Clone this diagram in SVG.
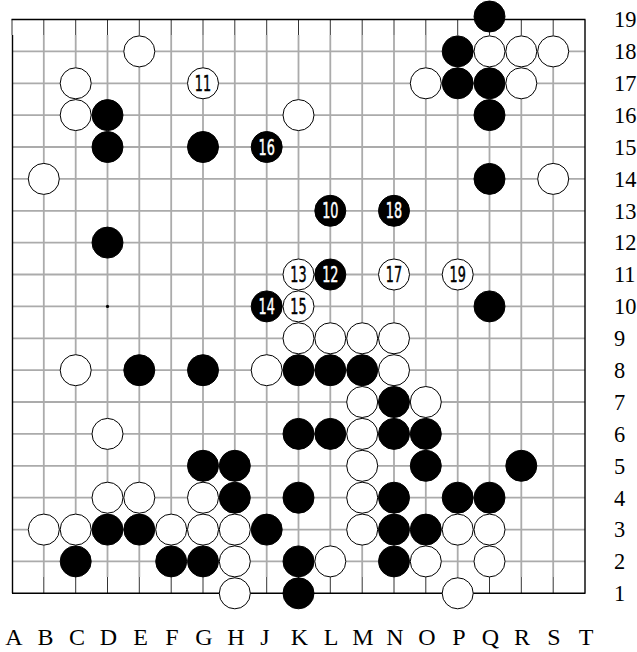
<svg xmlns="http://www.w3.org/2000/svg" width="637" height="652" viewBox="0 0 637 652">
<style>
.g{stroke:#ababab;stroke-width:1.8;fill:none}
.s{stroke:#333;stroke-width:1;fill:none}
.bd{stroke:#000;stroke-width:1.4;fill:none}
.b{fill:#000;stroke:#000;stroke-width:1}
.w{fill:#fff;stroke:#000;stroke-width:1}
.nb{fill:#fff;stroke:#fff;stroke-width:0.35}
.nw{fill:#000;stroke:#000;stroke-width:0.35}
</style>
<rect width="637" height="652" fill="#fff"/>
<g id="grid">
<path class="g" d="M43.8,35V577M75.7,35V577M107.5,35V577M139.3,35V577M171.2,35V577M203,35V577M234.8,35V577M266.7,35V577M298.5,35V577M330.3,35V577M362.2,35V577M394,35V577M425.8,35V577M457.7,35V577M489.5,35V577M521.3,35V577M553.2,35V577"/>
<path class="g" d="M12,51.4H585M12,83.3H585M12,115.1H585M12,147H585M12,178.9H585M12,210.8H585M12,242.6H585M12,274.5H585M12,306.4H585M12,338.3H585M12,370.2H585M12,402H585M12,433.9H585M12,465.8H585M12,497.7H585M12,529.6H585M12,561.4H585"/>
<path class="s" d="M12,19.5V35M43.8,19.5V35M75.7,19.5V35M107.5,19.5V35M139.3,19.5V35M171.2,19.5V35M203,19.5V35M234.8,19.5V35M266.7,19.5V35M298.5,19.5V35M330.3,19.5V35M362.2,19.5V35M394,19.5V35M425.8,19.5V35M457.7,19.5V35M489.5,19.5V35M521.3,19.5V35M553.2,19.5V35"/>
<path class="s" d="M43.8,577V593.3M75.7,577V593.3M107.5,577V593.3M139.3,577V593.3M171.2,577V593.3M203,577V593.3M234.8,577V593.3M266.7,577V593.3M298.5,577V593.3M330.3,577V593.3M362.2,577V593.3M394,577V593.3M425.8,577V593.3M457.7,577V593.3M489.5,577V593.3M521.3,577V593.3M553.2,577V593.3"/>
<path class="bd" d="M11.5,19.5H585.5M12.5,35V593.3M585,19.5V593.3M12,593.3H585.5"/>
<circle cx="107.5" cy="306.4" r="1.6" fill="#000"/>
</g>
<g id="connectors"></g>
<g id="stones" font-family="DejaVu Sans, sans-serif" font-size="16" text-anchor="middle">
<g id="Q19"><circle class="b" cx="489.5" cy="16.5" r="15.5"/></g>
<g id="P18"><circle class="b" cx="457.7" cy="51.4" r="15.5"/></g>
<g id="P17"><circle class="b" cx="457.7" cy="83.3" r="15.5"/></g>
<g id="Q17"><circle class="b" cx="489.5" cy="83.3" r="15.5"/></g>
<g id="D16"><circle class="b" cx="107.5" cy="115.1" r="15.5"/></g>
<g id="Q16"><circle class="b" cx="489.5" cy="115.1" r="15.5"/></g>
<g id="D15"><circle class="b" cx="107.5" cy="147" r="15.5"/></g>
<g id="G15"><circle class="b" cx="203" cy="147" r="15.5"/></g>
<g id="J15"><circle class="b" cx="266.7" cy="147" r="15.5"/><text class="nb" transform="translate(266.7,154.6) scale(0.8,1.3)">16</text></g>
<g id="Q14"><circle class="b" cx="489.5" cy="178.9" r="15.5"/></g>
<g id="L13"><circle class="b" cx="330.3" cy="210.8" r="15.5"/><text class="nb" transform="translate(330.3,218.4) scale(0.8,1.3)">10</text></g>
<g id="N13"><circle class="b" cx="394" cy="210.8" r="15.5"/><text class="nb" transform="translate(394,218.4) scale(0.8,1.3)">18</text></g>
<g id="D12"><circle class="b" cx="107.5" cy="242.6" r="15.5"/></g>
<g id="L11"><circle class="b" cx="330.3" cy="274.5" r="15.5"/><text class="nb" transform="translate(330.3,282.1) scale(0.8,1.3)">12</text></g>
<g id="J10"><circle class="b" cx="266.7" cy="306.4" r="15.5"/><text class="nb" transform="translate(266.7,314) scale(0.8,1.3)">14</text></g>
<g id="Q10"><circle class="b" cx="489.5" cy="306.4" r="15.5"/></g>
<g id="E8"><circle class="b" cx="139.3" cy="370.2" r="15.5"/></g>
<g id="G8"><circle class="b" cx="203" cy="370.2" r="15.5"/></g>
<g id="K8"><circle class="b" cx="298.5" cy="370.2" r="15.5"/></g>
<g id="L8"><circle class="b" cx="330.3" cy="370.2" r="15.5"/></g>
<g id="M8"><circle class="b" cx="362.2" cy="370.2" r="15.5"/></g>
<g id="N7"><circle class="b" cx="394" cy="402" r="15.5"/></g>
<g id="K6"><circle class="b" cx="298.5" cy="433.9" r="15.5"/></g>
<g id="L6"><circle class="b" cx="330.3" cy="433.9" r="15.5"/></g>
<g id="N6"><circle class="b" cx="394" cy="433.9" r="15.5"/></g>
<g id="O6"><circle class="b" cx="425.8" cy="433.9" r="15.5"/></g>
<g id="G5"><circle class="b" cx="203" cy="465.8" r="15.5"/></g>
<g id="H5"><circle class="b" cx="234.8" cy="465.8" r="15.5"/></g>
<g id="O5"><circle class="b" cx="425.8" cy="465.8" r="15.5"/></g>
<g id="R5"><circle class="b" cx="521.3" cy="465.8" r="15.5"/></g>
<g id="H4"><circle class="b" cx="234.8" cy="497.7" r="15.5"/></g>
<g id="K4"><circle class="b" cx="298.5" cy="497.7" r="15.5"/></g>
<g id="N4"><circle class="b" cx="394" cy="497.7" r="15.5"/></g>
<g id="P4"><circle class="b" cx="457.7" cy="497.7" r="15.5"/></g>
<g id="Q4"><circle class="b" cx="489.5" cy="497.7" r="15.5"/></g>
<g id="D3"><circle class="b" cx="107.5" cy="529.6" r="15.5"/></g>
<g id="E3"><circle class="b" cx="139.3" cy="529.6" r="15.5"/></g>
<g id="J3"><circle class="b" cx="266.7" cy="529.6" r="15.5"/></g>
<g id="N3"><circle class="b" cx="394" cy="529.6" r="15.5"/></g>
<g id="O3"><circle class="b" cx="425.8" cy="529.6" r="15.5"/></g>
<g id="C2"><circle class="b" cx="75.7" cy="561.4" r="15.5"/></g>
<g id="F2"><circle class="b" cx="171.2" cy="561.4" r="15.5"/></g>
<g id="G2"><circle class="b" cx="203" cy="561.4" r="15.5"/></g>
<g id="K2"><circle class="b" cx="298.5" cy="561.4" r="15.5"/></g>
<g id="N2"><circle class="b" cx="394" cy="561.4" r="15.5"/></g>
<g id="K1"><circle class="b" cx="298.5" cy="593.3" r="15.5"/></g>
<g id="E18"><circle class="w" cx="139.3" cy="51.4" r="15.5"/></g>
<g id="Q18"><circle class="w" cx="489.5" cy="51.4" r="15.5"/></g>
<g id="R18"><circle class="w" cx="521.3" cy="51.4" r="15.5"/></g>
<g id="S18"><circle class="w" cx="553.2" cy="51.4" r="15.5"/></g>
<g id="C17"><circle class="w" cx="75.7" cy="83.3" r="15.5"/></g>
<g id="G17"><circle class="w" cx="203" cy="83.3" r="15.5"/><text class="nw" transform="translate(203,90.9) scale(0.8,1.3)">11</text></g>
<g id="O17"><circle class="w" cx="425.8" cy="83.3" r="15.5"/></g>
<g id="R17"><circle class="w" cx="521.3" cy="83.3" r="15.5"/></g>
<g id="C16"><circle class="w" cx="75.7" cy="115.1" r="15.5"/></g>
<g id="K16"><circle class="w" cx="298.5" cy="115.1" r="15.5"/></g>
<g id="B14"><circle class="w" cx="43.8" cy="178.9" r="15.5"/></g>
<g id="S14"><circle class="w" cx="553.2" cy="178.9" r="15.5"/></g>
<g id="K11"><circle class="w" cx="298.5" cy="274.5" r="15.5"/><text class="nw" transform="translate(298.5,282.1) scale(0.8,1.3)">13</text></g>
<g id="N11"><circle class="w" cx="394" cy="274.5" r="15.5"/><text class="nw" transform="translate(394,282.1) scale(0.8,1.3)">17</text></g>
<g id="P11"><circle class="w" cx="457.7" cy="274.5" r="15.5"/><text class="nw" transform="translate(457.7,282.1) scale(0.8,1.3)">19</text></g>
<g id="K10"><circle class="w" cx="298.5" cy="306.4" r="15.5"/><text class="nw" transform="translate(298.5,314) scale(0.8,1.3)">15</text></g>
<g id="K9"><circle class="w" cx="298.5" cy="338.3" r="15.5"/></g>
<g id="L9"><circle class="w" cx="330.3" cy="338.3" r="15.5"/></g>
<g id="M9"><circle class="w" cx="362.2" cy="338.3" r="15.5"/></g>
<g id="N9"><circle class="w" cx="394" cy="338.3" r="15.5"/></g>
<g id="C8"><circle class="w" cx="75.7" cy="370.2" r="15.5"/></g>
<g id="J8"><circle class="w" cx="266.7" cy="370.2" r="15.5"/></g>
<g id="N8"><circle class="w" cx="394" cy="370.2" r="15.5"/></g>
<g id="M7"><circle class="w" cx="362.2" cy="402" r="15.5"/></g>
<g id="O7"><circle class="w" cx="425.8" cy="402" r="15.5"/></g>
<g id="D6"><circle class="w" cx="107.5" cy="433.9" r="15.5"/></g>
<g id="M6"><circle class="w" cx="362.2" cy="433.9" r="15.5"/></g>
<g id="M5"><circle class="w" cx="362.2" cy="465.8" r="15.5"/></g>
<g id="D4"><circle class="w" cx="107.5" cy="497.7" r="15.5"/></g>
<g id="E4"><circle class="w" cx="139.3" cy="497.7" r="15.5"/></g>
<g id="G4"><circle class="w" cx="203" cy="497.7" r="15.5"/></g>
<g id="M4"><circle class="w" cx="362.2" cy="497.7" r="15.5"/></g>
<g id="B3"><circle class="w" cx="43.8" cy="529.6" r="15.5"/></g>
<g id="C3"><circle class="w" cx="75.7" cy="529.6" r="15.5"/></g>
<g id="F3"><circle class="w" cx="171.2" cy="529.6" r="15.5"/></g>
<g id="G3"><circle class="w" cx="203" cy="529.6" r="15.5"/></g>
<g id="H3"><circle class="w" cx="234.8" cy="529.6" r="15.5"/></g>
<g id="M3"><circle class="w" cx="362.2" cy="529.6" r="15.5"/></g>
<g id="P3"><circle class="w" cx="457.7" cy="529.6" r="15.5"/></g>
<g id="Q3"><circle class="w" cx="489.5" cy="529.6" r="15.5"/></g>
<g id="H2"><circle class="w" cx="234.8" cy="561.4" r="15.5"/></g>
<g id="L2"><circle class="w" cx="330.3" cy="561.4" r="15.5"/></g>
<g id="O2"><circle class="w" cx="425.8" cy="561.4" r="15.5"/></g>
<g id="Q2"><circle class="w" cx="489.5" cy="561.4" r="15.5"/></g>
<g id="H1"><circle class="w" cx="234.8" cy="593.3" r="15.5"/></g>
<g id="P1"><circle class="w" cx="457.7" cy="593.3" r="15.5"/></g>
</g>
<g id="row-labels" fill="#000" font-family="Liberation Serif, serif" font-size="16">
<text transform="translate(614,27.3) scale(1.4)">19</text>
<text transform="translate(614,59.2) scale(1.4)">18</text>
<text transform="translate(614,91.1) scale(1.4)">17</text>
<text transform="translate(614,122.9) scale(1.4)">16</text>
<text transform="translate(614,154.8) scale(1.4)">15</text>
<text transform="translate(614,186.7) scale(1.4)">14</text>
<text transform="translate(614,218.6) scale(1.4)">13</text>
<text transform="translate(614,250.4) scale(1.4)">12</text>
<text transform="translate(614,282.3) scale(1.4)">11</text>
<text transform="translate(614,314.2) scale(1.4)">10</text>
<text transform="translate(614,346.1) scale(1.4)">9</text>
<text transform="translate(614,378) scale(1.4)">8</text>
<text transform="translate(614,409.8) scale(1.4)">7</text>
<text transform="translate(614,441.7) scale(1.4)">6</text>
<text transform="translate(614,473.6) scale(1.4)">5</text>
<text transform="translate(614,505.5) scale(1.4)">4</text>
<text transform="translate(614,537.4) scale(1.4)">3</text>
<text transform="translate(614,569.2) scale(1.4)">2</text>
<text transform="translate(614,601.1) scale(1.4)">1</text>
</g>
<g id="col-labels" fill="#000" font-family="Liberation Serif, serif" font-size="16" text-anchor="middle">
<text transform="translate(14,645) scale(1.5)">A</text>
<text transform="translate(45.5,645) scale(1.5)">B</text>
<text transform="translate(77,645) scale(1.5)">C</text>
<text transform="translate(108.5,645) scale(1.5)">D</text>
<text transform="translate(140.5,645) scale(1.5)">E</text>
<text transform="translate(172,645) scale(1.5)">F</text>
<text transform="translate(204,645) scale(1.5)">G</text>
<text transform="translate(236,645) scale(1.5)">H</text>
<text transform="translate(265,645) scale(1.5)">J</text>
<text transform="translate(299.5,645) scale(1.5)">K</text>
<text transform="translate(331,645) scale(1.5)">L</text>
<text transform="translate(363,645) scale(1.5)">M</text>
<text transform="translate(395,645) scale(1.5)">N</text>
<text transform="translate(427,645) scale(1.5)">O</text>
<text transform="translate(459,645) scale(1.5)">P</text>
<text transform="translate(490.5,645) scale(1.5)">Q</text>
<text transform="translate(522,645) scale(1.5)">R</text>
<text transform="translate(554,645) scale(1.5)">S</text>
<text transform="translate(586,645) scale(1.5)">T</text>
</g>
</svg>
